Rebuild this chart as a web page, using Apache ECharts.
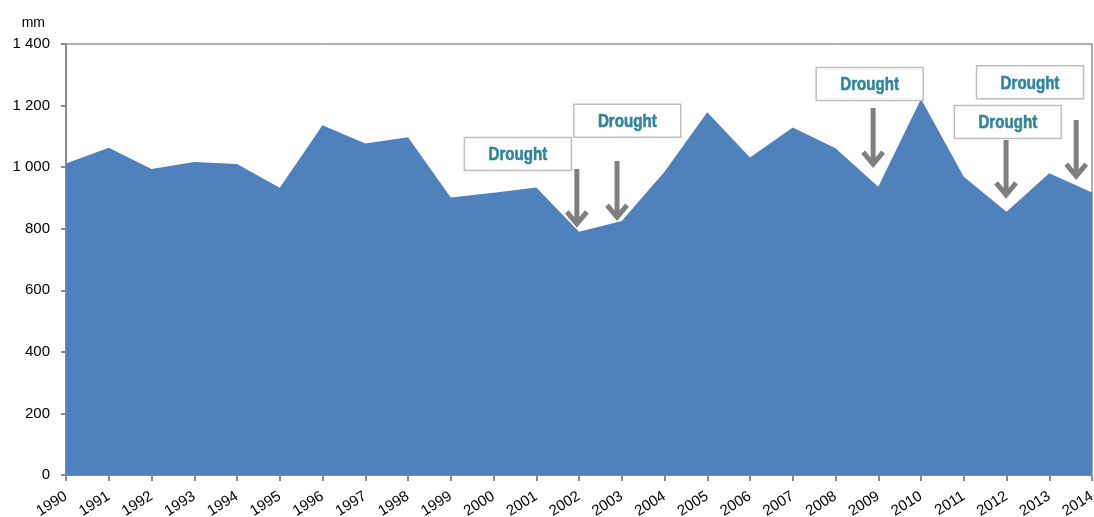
<!DOCTYPE html>
<html>
<head>
<meta charset="utf-8">
<script src="https://cdn.jsdelivr.net/npm/echarts@6/dist/echarts.min.js"></script>
<style>
html,body{margin:0;padding:0;background:#fff;}
#chart{width:1094px;height:517px;}
</style>
</head>
<body>
<div id="chart"></div>
<script>
// ---- data ----
const years = [1990,1991,1992,1993,1994,1995,1996,1997,1998,1999,2000,2001,2002,2003,2004,2005,2006,2007,2008,2009,2010,2011,2012,2013,2014];
const rainfall = [1012,1063,994,1017,1010,933,1136,1077,1097,901,917,934,790,825,985,1178,1031,1129,1061,936,1221,969,855,980,918];
const yUnit = 'mm';
const yMin = 0, yMax = 1400, yStep = 200;
const annotationText = 'Drought';
// label box centres in data coordinates [year, mm]
const droughtLabels = [[2000.57,1043],[2003.13,1151],[2008.80,1270],[2012.55,1276],[2012.03,1147]];
// arrows [year, tail mm, tip mm]
const droughtArrows = [[2001.95,994,806],[2002.89,1020,828],[2008.88,1192,1000],[2011.99,1088,900],[2013.63,1153,961]];

const chart = echarts.init(document.getElementById('chart'));
const font = '"Liberation Sans", Arial, sans-serif';
const fmtThousands = v => String(v).replace(/\B(?=(\d{3})+$)/g, ' ');

chart.setOption({
  animation: false,
  grid: { left: 66, right: 2, top: 44, bottom: 42, outerBoundsMode: 'none', containLabel: false,
          show: true, borderColor: '#5a5a5a', borderWidth: 1, backgroundColor: 'transparent' },
  xAxis: {
    type: 'value', min: years[0], max: years[years.length-1], interval: 1,
    axisLine: { show: true, lineStyle: { color: '#8c8c8c', width: 2 } },
    axisTick: { show: true, length: 6, lineStyle: { color: '#8c8c8c', width: 2 } },
    splitLine: { show: false },
    axisLabel: { rotate: 32, margin: 20, fontSize: 15, color: '#000', fontFamily: font, formatter: v => String(v), padding: [0, 0, 0, 0] }
  },
  yAxis: {
    type: 'value', min: yMin, max: yMax, interval: yStep,
    name: yUnit, nameLocation: 'end', nameGap: 14,
    nameTextStyle: { fontSize: 14, color: '#000', fontFamily: font, align: 'right', verticalAlign: 'bottom', padding: [0, 21, 0, 0] },
    axisLine: { show: true, lineStyle: { color: '#8c8c8c', width: 2 } },
    axisTick: { show: true, length: 5, lineStyle: { color: '#8c8c8c', width: 2 } },
    splitLine: { show: false },
    axisLabel: { margin: 16, fontSize: 15, color: '#000', fontFamily: font, formatter: fmtThousands }
  },
  series: [
    {
      type: 'line', data: years.map((y, i) => [y, rainfall[i]]),
      symbol: 'none', lineStyle: { width: 0 },
      areaStyle: { color: '#4f81bd', opacity: 1 }, z: 2
    },
    {
      type: 'custom', coordinateSystem: 'cartesian2d', silent: true, z: 5,
      data: droughtArrows,
      renderItem: (params, api) => {
        const x = api.value(0);
        const top = api.coord([x, api.value(1)]);
        const tip = api.coord([x, api.value(2)]);
        const style = { stroke: '#7f7f7f', lineWidth: 5, fill: null, lineJoin: 'miter', lineCap: 'butt' };
        return { type: 'group', children: [
          { type: 'line', shape: { x1: top[0], y1: top[1], x2: tip[0], y2: tip[1] - 3 }, style },
          { type: 'polyline', shape: { points: [[tip[0]-10, tip[1]-15], [tip[0], tip[1]-3], [tip[0]+10, tip[1]-15]] }, style }
        ]};
      }
    },
    {
      type: 'custom', coordinateSystem: 'cartesian2d', silent: true, z: 6,
      data: droughtLabels,
      renderItem: (params, api) => {
        const c = api.coord([api.value(0), api.value(1)]);
        const w = 107, h = 33;
        return { type: 'group', children: [
          { type: 'rect', shape: { x: c[0]-w/2, y: c[1]-h/2, width: w, height: h }, style: { fill: '#fff', stroke: '#bfbfbf', lineWidth: 1.5 } },
          { type: 'text', x: c[0], y: c[1] + 1.5, scaleX: 0.84, scaleY: 1,
            style: { x: 0, y: 0, text: annotationText, align: 'center', verticalAlign: 'middle', fill: '#31849b',
                     stroke: '#31849b', lineWidth: 0.6,
                     font: 'bold 18px "Liberation Sans", Arial, sans-serif' } }
        ]};
      }
    }
  ]
});
</script>
</body>
</html>
